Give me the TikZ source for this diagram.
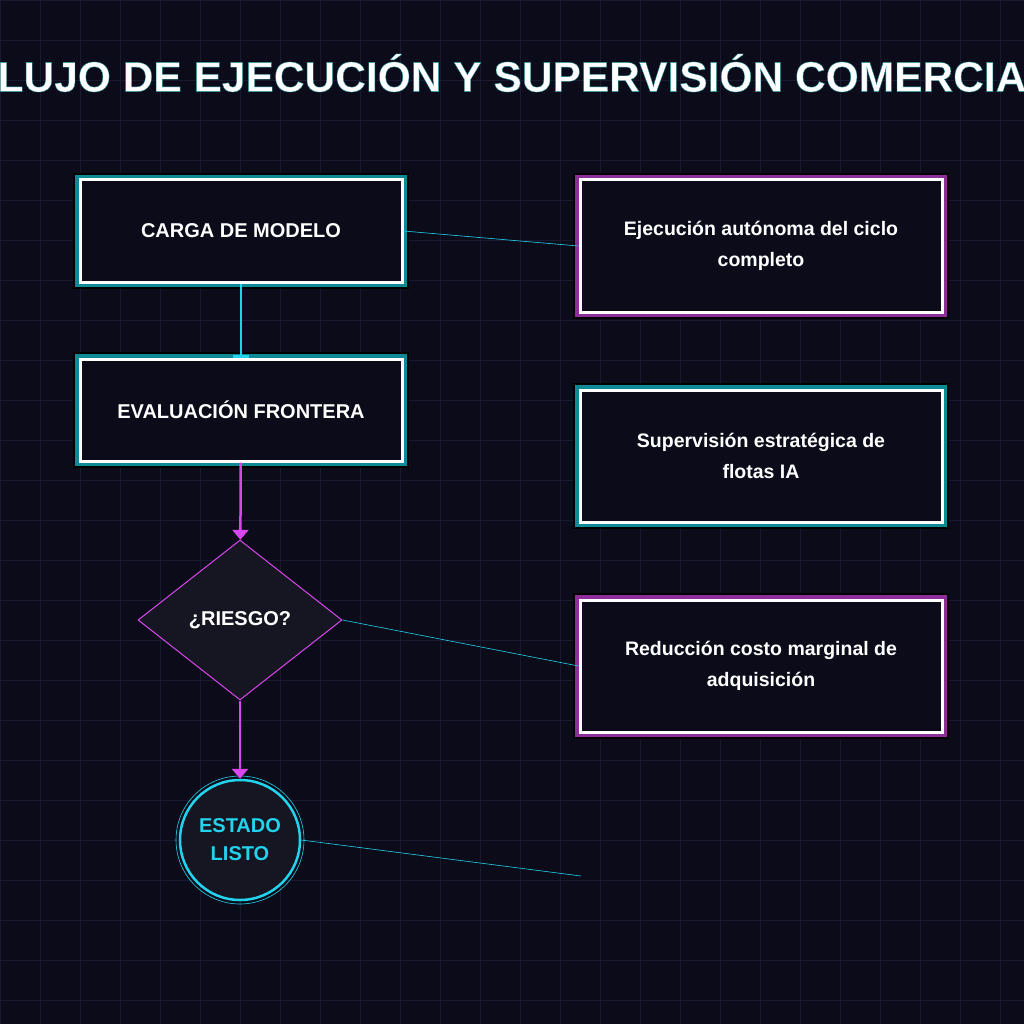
\documentclass[tikz,border=0pt]{standalone}
\usepackage{fontspec}
\setmainfont{Liberation Sans}
\usetikzlibrary{shapes.geometric,arrows.meta}
\definecolor{bgdark}{HTML}{0B0B1A}
\definecolor{gridc}{HTML}{191930}
\definecolor{cyanc}{HTML}{22D3EE}
\definecolor{tealc}{HTML}{0E8A96}
\definecolor{magc}{HTML}{D946EF}
\definecolor{fillc}{HTML}{161622}
\newcommand{\outlinetext}[1]{\special{pdf:literal direct q 2 Tr 0.35 w 0.06 0.55 0.6 RG}#1\special{pdf:literal direct Q}}
\begin{document}
\begin{tikzpicture}[x=1pt,y=-1pt,
  stepbox/.style={draw=white,line width=3pt,fill=bgdark,
    minimum width=322pt,minimum height=102pt,
    font=\bfseries\fontsize{20}{24}\selectfont,text=white,align=center},
  glowteal/.style={preaction={draw=black,line width=14pt},
    preaction={draw=tealc,line width=10pt}},
  glowmag/.style={preaction={draw=black,line width=14pt},
    preaction={draw=magc!65!black,line width=10pt}},
  infobox/.style={stepbox,minimum width=362pt,minimum height=132pt,
    font=\bfseries\fontsize{19.5}{31}\selectfont},
  titlefont/.style={font=\bfseries\fontsize{42.5}{50}\selectfont},
  link/.style={draw=cyanc,line width=0.6pt}]
  \useasboundingbox (0,0) rectangle (1024,1024);
  \clip (0,0) rectangle (1024,1024);
  \fill[bgdark] (0,0) rectangle (1024,1024);
  \foreach \g in {0,40,...,1000} {
    \draw[gridc,line width=0.6pt] (\g,0) -- (\g,1024);
    \draw[gridc,line width=0.6pt] (0,\g) -- (1024,\g);
  }
  % title
  \node[titlefont,text=white] (title) at (512,73)
    {\outlinetext{FLUJO DE EJECUCIÓN Y SUPERVISIÓN COMERCIAL}};

  % flow
  \node[stepbox,glowteal] (carga) at (241,231) {CARGA DE MODELO};
  \node[stepbox,glowteal] (evalua) at (241,410) {EVALUACIÓN FRONTERA};
  \node[diamond,draw=magc,line width=1pt,fill=fillc,aspect=1.275,
    minimum width=204pt,minimum height=160pt,inner sep=0pt,
    font=\bfseries\fontsize{20}{24}\selectfont,text=white] (riesgo) at (240,620) {¿RIESGO?};
  \node[circle,draw=cyanc,line width=2.5pt,fill=fillc,minimum size=120pt,
    inner sep=0pt,align=center,text=cyanc,
    font=\bfseries\fontsize{20}{28}\selectfont] (listo) at (240,840) {ESTADO\\LISTO};
  \draw[cyanc,line width=0.6pt] (listo.center) circle (64);

  % info boxes
  \node[infobox,glowmag] (ejec) at (761,246) {Ejecución autónoma del ciclo\\completo};
  \node[infobox,glowteal] (superv) at (761,456) {Supervisión estratégica de\\flotas IA};
  \node[infobox,glowmag] (reduc) at (761,666) {Reducción costo marginal de\\adquisición};
  \coordinate (free) at (581,876);

  % connectors
  \draw[cyanc,line width=2.5pt,-{Bar[width=16pt]}] (carga) -- (evalua);
  \draw[magc,line width=2.5pt,-{Triangle[width=16pt,length=10pt]}] (evalua) -- (riesgo);
  \draw[magc,line width=2.5pt,-{Triangle[width=16pt,length=10pt]}] (riesgo) -- (listo);
  \draw[link] (carga.east) -- (ejec.west);
  \draw[link] (riesgo.east) -- (reduc.west);
  \draw[link] (listo.east) -- (free);
\end{tikzpicture}
\end{document}
